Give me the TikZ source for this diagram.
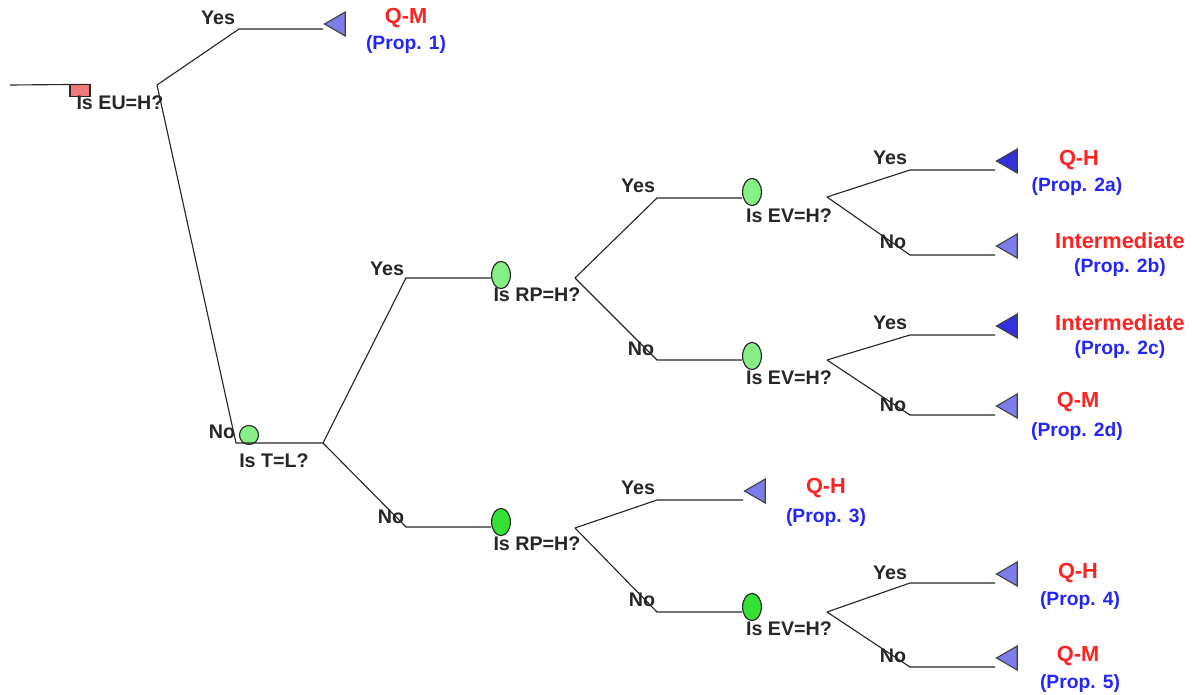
\documentclass[tikz,border=0pt]{standalone}
\usepackage{fontspec}
\setmainfont{Liberation Sans}
\usepackage{xcolor}
\usepackage{tikz}
\usetikzlibrary{shapes.geometric}

\definecolor{leafdark}{HTML}{3030DC}
\definecolor{leaflight}{HTML}{7C7CEC}
\definecolor{chancelight}{HTML}{86F086}
\definecolor{chancebright}{HTML}{34E234}
\definecolor{decisionred}{HTML}{F07878}
\definecolor{outred}{HTML}{FF2222}
\definecolor{outblue}{HTML}{2424FF}

\begin{document}
\begin{tikzpicture}[x=0.025cm, y=-0.025cm]
		\tikzstyle{branch}=[draw=black!85, line width=0.8pt]
		\tikzstyle{decision}=[draw=black!85, thick, fill=decisionred, rectangle, minimum width=0.5cm, minimum height=0.28cm, inner sep=0pt]
		\tikzstyle{chance}=[draw=black!85, thick, fill=chancelight, ellipse, minimum width=0.47cm, minimum height=0.68cm, inner sep=0pt]
		\tikzstyle{chance_bright}=[chance, fill=chancebright]
		\tikzstyle{leaf}=[draw=black!75, thick, fill=leaflight, isosceles triangle, isosceles triangle stretches, shape border rotate=180, minimum height=0.52cm, minimum width=0.6cm, inner sep=0pt, anchor=apex]
		\tikzstyle{leaf_dark}=[leaf, fill=leafdark]
		\tikzstyle{node_text}=[font=\fontsize{14}{16}\selectfont\bfseries, text=black!85, inner sep=0pt]
		\tikzstyle{out_text}=[font=\fontsize{15.5}{17}\selectfont\bfseries, text=outred, inner sep=0pt]
		\tikzstyle{prop_text}=[font=\fontsize{13.7}{16}\selectfont\bfseries, text=outblue, inner sep=0pt]

		\useasboundingbox (0,0) rectangle (1192,695);

		% root decision
		\coordinate (start) at (10,85);
		\node [decision] (EU) at (80,90.5) {};
		\node [node_text] (EU-q) at (120,103) {Is EU=H?};
		\draw [branch] (start) -- (EU.north east);

		\coordinate (EU-fan) at (157,85);
		\coordinate (EU-yes) at (239,29);
		\coordinate (EU-no) at (236,443);
		\node [leaf] (L1) at (323,24) {};
		\coordinate (L1-end) at (323,29);
		\node [node_text] at (218,18) {Yes};
		\node [out_text] at (406,18) {Q-M};
		\node [prop_text] at (406,45) {(Prop. 1)};
		\draw [branch] (EU-fan) -- (EU-yes) -- (L1-end);

		% T=L
		\node [chance, minimum width=0.475cm, minimum height=0.475cm] (TL) at (249,435) {};
		\node [node_text] at (222,432) {No};
		\node [node_text] at (274,461) {Is T=L?};
		\coordinate (TL-fan) at (323,443);
		\draw [branch] (EU-fan) -- (EU-no) -- (TL-fan);

		% RP, upper
		\node [chance] (RP1) at (501,275) {};
		\node [node_text] at (537,295) {Is RP=H?};
		\node [node_text] at (387,269) {Yes};
		\coordinate (TL-yes) at (406,278);
		\draw [branch] (TL-fan) -- (TL-yes) -- (RP1.west |- TL-yes);
		\coordinate (RP1-fan) at (575,278);

		% EV, upper
		\node [chance] (EV1) at (752,192) {};
		\node [node_text] at (789,216) {Is EV=H?};
		\node [node_text] at (638,186) {Yes};
		\coordinate (RP1-yes) at (657,198);
		\draw [branch] (RP1-fan) -- (RP1-yes) -- (EV1.west |- RP1-yes);
		\coordinate (EV1-fan) at (827,197);

		\node [leaf_dark] (L2a) at (995,161) {};
		\node [node_text] at (890,158) {Yes};
		\node [out_text] at (1079,160) {Q-H};
		\node [prop_text] at (1077,187) {(Prop. 2a)};
		\draw [branch] (EV1-fan) -- (910,170) -- (L2a.apex |- 0,170);

		\node [leaf] (L2b) at (995,246) {};
		\node [node_text] at (893,242) {No};
		\node [out_text] at (1120,241) {Intermediate};
		\node [prop_text] at (1120,268) {(Prop. 2b)};
		\draw [branch] (EV1-fan) -- (910,255) -- (L2b.apex |- 0,255);

		% EV, middle
		\node [chance] (EV2) at (752,356) {};
		\node [node_text] at (789,378) {Is EV=H?};
		\node [node_text] at (641,349) {No};
		\coordinate (RP1-no) at (657,360);
		\draw [branch] (RP1-fan) -- (RP1-no) -- (EV2.west |- RP1-no);
		\coordinate (EV2-fan) at (827,360);

		\node [leaf_dark] (L2c) at (995,326) {};
		\node [node_text] at (890,323) {Yes};
		\node [out_text] at (1120,323) {Intermediate};
		\node [prop_text] at (1120,350) {(Prop. 2c)};
		\draw [branch] (EV2-fan) -- (910,335) -- (L2c.apex |- 0,335);

		\node [leaf] (L2d) at (995,406) {};
		\node [node_text] at (893,405) {No};
		\node [out_text] at (1078,402) {Q-M};
		\node [prop_text] at (1077,432) {(Prop. 2d)};
		\draw [branch] (EV2-fan) -- (910,415) -- (L2d.apex |- 0,415);

		% RP, lower
		\node [chance_bright] (RP2) at (501,522) {};
		\node [node_text] at (537,544) {Is RP=H?};
		\node [node_text] at (391,517) {No};
		\coordinate (TL-no) at (406,527);
		\draw [branch] (TL-fan) -- (TL-no) -- (RP2.west |- TL-no);
		\coordinate (RP2-fan) at (575,528);

		\node [leaf] (L3) at (743,491) {};
		\node [node_text] at (638,488) {Yes};
		\node [out_text] at (826,488) {Q-H};
		\node [prop_text] at (826,518) {(Prop. 3)};
		\draw [branch] (RP2-fan) -- (657,500) -- (L3.apex |- 0,500);

		% EV, lower
		\node [chance_bright] (EV3) at (752,607) {};
		\node [node_text] at (789,629) {Is EV=H?};
		\node [node_text] at (642,600) {No};
		\coordinate (RP2-no) at (657,612);
		\draw [branch] (RP2-fan) -- (RP2-no) -- (EV3.west |- RP2-no);
		\coordinate (EV3-fan) at (827,612);

		\node [leaf] (L4) at (995,574) {};
		\node [node_text] at (890,573) {Yes};
		\node [out_text] at (1078,573) {Q-H};
		\node [prop_text] at (1080,601) {(Prop. 4)};
		\draw [branch] (EV3-fan) -- (910,583) -- (L4.apex |- 0,583);

		\node [leaf] (L5) at (995,658) {};
		\node [node_text] at (893,656) {No};
		\node [out_text] at (1078,656) {Q-M};
		\node [prop_text] at (1080,684) {(Prop. 5)};
		\draw [branch] (EV3-fan) -- (910,667) -- (L5.apex |- 0,667);
	\end{tikzpicture}
\end{document}
